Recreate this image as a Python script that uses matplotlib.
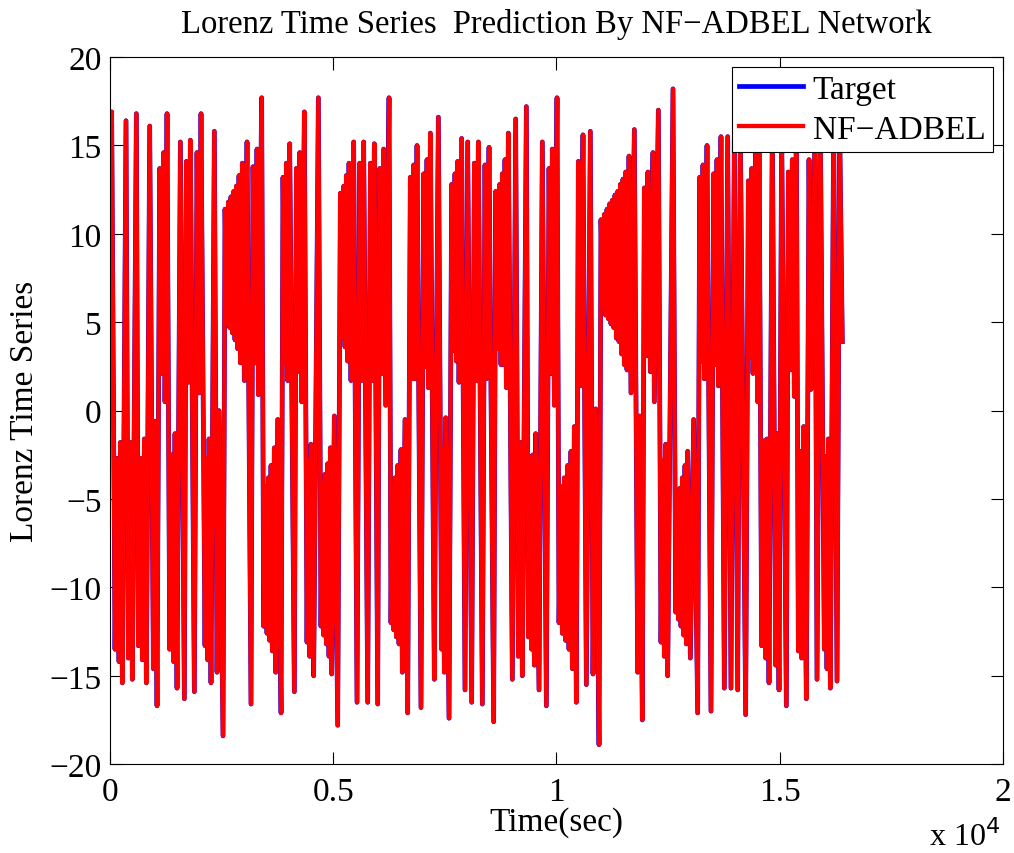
import matplotlib.pyplot as plt

# turning points of the Lorenz x series (time in sec)
time_sec = [
    0, 37, 112, 157, 202, 231, 276, 358, 411, 455, 500, 590, 635, 680, 724, 769, 814, 889,
    971, 1008, 1053, 1113, 1157, 1202, 1232, 1277, 1337, 1381, 1426, 1456, 1501, 1576, 1665,
    1710, 1755, 1800, 1889, 1949, 1994,
    2038, 2128, 2158, 2188, 2218, 2262, 2337, 2397, 2442, 2531, 2576, 2621, 2651, 2681, 2710,
    2740, 2770, 2800, 2830, 2860, 2890, 2920, 2964, 3009, 3069, 3158, 3203, 3248, 3293, 3323,
    3397, 3442, 3487, 3517, 3547, 3577, 3607, 3636, 3681, 3711, 3756, 3831, 3875, 3920, 3950,
    3980, 4025,
    4129, 4174, 4219, 4249, 4293, 4353, 4413, 4443, 4473, 4502, 4562, 4667, 4726, 4756, 4786,
    4816, 4846, 4876, 4906, 4936, 4965, 5025, 5100, 5160, 5204, 5234, 5264, 5294, 5324, 5354,
    5398, 5458, 5533, 5593, 5637, 5682, 5772, 5832, 5876, 5921,
    5996, 6041, 6085, 6130, 6175, 6250, 6294, 6324, 6354, 6384, 6414, 6444, 6474, 6518, 6548,
    6608, 6668, 6727, 6772, 6802, 6832, 6877, 6966, 7026, 7071, 7101, 7131, 7176, 7265, 7295,
    7355, 7429, 7459, 7489, 7519, 7594, 7653, 7698, 7728, 7758, 7788, 7818, 7877, 7952, 8012,
    8101, 8161, 8206, 8251, 8340, 8400, 8430, 8490, 8594, 8639, 8684, 8729, 8758, 8788, 8818,
    8848, 8878, 8923, 9012, 9087, 9147, 9192, 9236, 9326, 9371, 9415, 9445, 9475, 9505, 9535,
    9610, 9684, 9774, 9834, 9878, 9908, 9953, 10013,
    10058, 10102, 10132, 10177, 10207, 10252, 10282, 10326, 10356, 10401, 10446, 10491, 10535,
    10595, 10670, 10759, 10819, 10879, 10954, 10998, 11043, 11073, 11103, 11133, 11163, 11193,
    11222, 11252, 11282, 11312, 11342, 11372, 11402, 11432, 11461, 11491, 11521, 11551, 11581,
    11626, 11670, 11745, 11820, 11865, 11924, 11969, 12014,
    12050, 12103, 12163, 12193, 12283, 12342, 12387, 12417, 12447, 12492, 12611, 12671, 12701,
    12731, 12761, 12790, 12820, 12850, 12880, 12910, 12940, 13000, 13074, 13164, 13209, 13253,
    13283, 13313, 13373, 13462, 13522, 13567, 13597, 13627, 13686, 13761, 13836, 13910, 13985,
    14060,
    14119, 14239, 14299, 14343, 14373, 14403, 14463, 14508, 14538, 14597, 14657, 14687, 14717,
    14762, 14836, 14911, 14941, 14986, 15045, 15150, 15195, 15240, 15284, 15329, 15374, 15419,
    15464, 15493, 15538, 15598, 15658, 15702, 15792, 15837, 15912, 16001, 16031, 16061, 16091,
    16136, 16210, 16285, 16345, 16404,
]
target = [
    0.0, 16.9, -13.5, -2.7, -14.2, -1.8, -15.4, 16.4, -14.0, -1.8, -15.2, 16.8, -13.3, -2.7,
    -14.1, -1.6, -15.4, 16.1, -14.6, -0.6, -16.7, 13.7, 2.1, 14.6, 0.5, 16.8, -13.5, -2.5,
    -14.2, -1.3, -15.7, 15.2, -16.3, 14.1, 1.6, 15.3, -15.9, 14.6, 1.0,
    16.8, -13.3, -2.7, -14.1, -1.6, -15.4, 15.8, -14.8, 0.0, -18.4, 11.4, 4.9, 11.8, 4.7, 12.1,
    4.4, 12.4, 4.0, 12.7, 3.5, 13.3, 2.7, 14.0, 1.7, 15.2, -16.6, 13.8, 2.7, 14.8, 0.9,
    17.7, -12.2, -4.3, -12.6, -3.8, -13.0, -3.1, -13.6, -2.1, -14.8, -0.5, -17.1, 13.2, 2.7, 14.0,
    1.7, 15.1,
    -15.9, 13.7, 2.2, 14.6, 0.5, 16.9, -13.1, -2.8, -13.9, -1.9, -15.0, 17.7, -12.2, -4.1, -12.7,
    -3.6, -13.2, -3.0, -13.9, -2.1, -14.9, -0.3, -17.8, 12.3, 4.1, 12.7, 3.6, 13.3, 2.8, 14.0,
    1.7, 15.2, -16.5, 14.0, 1.7, 15.2, -16.5, 14.0, 1.7, 15.1,
    -16.6, 13.7, 2.1, 14.8, 0.3, 17.7, -12.0, -4.3, -12.4, -3.8, -12.8, -3.1, -13.2, -2.2, -14.8,
    -0.5, -17.1, 13.2, 1.8, 13.9, 1.8, 15.0, -16.8, 13.4, 2.5, 14.2, 1.3, 15.7, -15.2, -2.1,
    16.6, -13.5, -2.1, -14.8, -0.4, -17.4, 12.8, 3.4, 13.4, 2.8, 14.1, 1.6, 15.4, -15.8, 15.2,
    -16.5, 14.0, 1.7, 15.2, -16.6, 13.9, 1.8, 14.9, -17.6, 12.4, 3.5, 12.8, 2.6, 13.4, 2.6,
    14.2, 1.3, 15.7, -15.2, 16.5, -13.9, -1.8, -15.0, 17.2, -12.8, -2.6, -13.5, -2.5, -14.4, -1.3,
    -15.8, 15.2, -16.7, 13.7, 2.1, 14.8, 0.3, 17.7,
    -12.0, -4.3, -12.6, -3.8, -13.0, -3.1, -13.5, -2.3, -14.6, -0.9, -16.5, 14.1, 1.4,
    15.6, -15.5, 15.8, -14.9, 0.1, -18.9, 10.8, 5.8, 11.1, 5.4, 11.4, 5.2, 11.7,
    4.9, 11.9, 4.7, 12.2, 4.1, 12.4, 3.9, 12.8, 3.2, 13.1, 2.6, 13.5, 2.3,
    14.4, 1.0, 15.9, -14.8, -0.3, -17.5, 12.6, 3.1,
    13.5, 2.2, 14.6, 0.5, 17.0, -13.1, -2.8, -13.9, -1.9, -15.0, 18.2, -11.4, -4.9,
    -11.8, -4.4, -12.2, -3.8, -12.7, -3.1, -13.2, -2.3, -14.0, -0.5, -17.1, 13.2, 2.8,
    13.9, 1.8, 15.0, -17.0, 13.4, 2.6, 14.2, 1.4, 15.5, -15.7, 15.5, -15.7, 15.4,
    -15.8,
    16.0, -17.2, 13.0, 3.0, 13.7, 2.1, 15.5, 0.5, 16.5, -13.3, -1.7, -14.0, -1.6,
    -15.4, 16.3, -14.4, -1.3, -15.8, 16.0, -16.7, 13.5, 2.3, 14.2, 0.8, 16.5, -13.6,
    -2.3, -14.0, -0.9, -16.3, 14.2, 1.2, 15.8, -15.2, 16.2, -13.5, -2.6, -14.6, -1.6,
    -15.7, 16.4, -15.3, 16.0, 3.9,
]
# the NF-ADBEL output sits on top of the target almost everywhere
prediction = list(target)

x_ticks = [0, 5000, 10000, 15000, 20000]
x_tick_labels = ['0', '0.5', '1', '1.5', '2']
y_ticks = [-20, -15, -10, -5, 0, 5, 10, 15, 20]

plt.rcParams['font.family'] = ['Liberation Serif', 'DejaVu Serif']
plt.rcParams['axes.unicode_minus'] = True
FS = 24

fig = plt.figure(figsize=(10.14, 8.54), dpi=100)
ax = fig.add_axes([0.1085, 0.104, 0.8805, 0.828])

ax.plot(time_sec, target, color=(0, 0, 1), lw=3.4, label='Target')
ax.plot(time_sec, prediction, color=(1, 0, 0), lw=3.1, label='NF\u2212ADBEL')

ax.set_xlim(0, 20000)
ax.set_ylim(-20, 20)
ax.set_xticks(x_ticks)
ax.set_xticklabels(x_tick_labels)
ax.set_yticks(y_ticks)
ax.set_yticklabels([str(v).replace('-', '\u2212') for v in y_ticks])
ax.tick_params(direction='in', top=True, right=True, length=9, width=0.8,
               labelsize=FS, pad=6)
ax.tick_params(axis='x', pad=9)
for s in ax.spines.values():
    s.set_linewidth(0.8)

ax.set_title('Lorenz Time Series  Prediction By NF\u2212ADBEL Network', fontsize=FS - 0.5, pad=18)
ax.set_xlabel('Time(sec)', fontsize=FS)
ax.xaxis.set_label_coords(0.5, -0.06)
ax.set_ylabel('Lorenz Time Series', fontsize=FS)
ax.yaxis.set_label_coords(-0.078, 0.5)
ax.text(0.997, -0.101, 'x 10$^{4}$', transform=ax.transAxes, ha='right', va='center',
        fontsize=FS - 1)

leg = ax.legend(loc='upper right', fontsize=FS, fancybox=False, framealpha=1,
                edgecolor='black', borderaxespad=0.3, handlelength=1.9,
                handletextpad=0.3, borderpad=0.22, labelspacing=0.28)
leg.get_frame().set_linewidth(0.8)

fig.savefig('out.png', dpi=100)
